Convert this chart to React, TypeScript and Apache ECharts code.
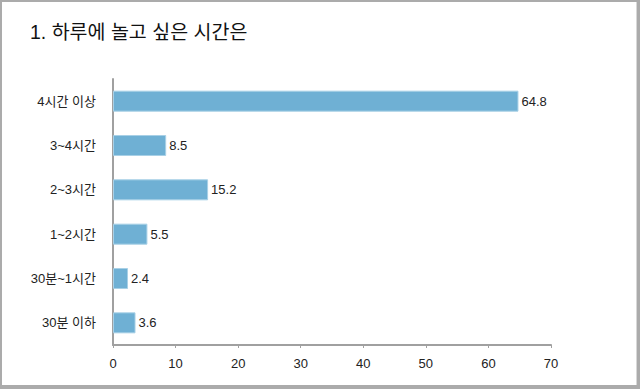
import React, { useEffect, useRef } from "react";
import * as echarts from "echarts";

const title = "1. 하루에 놀고 싶은 시간은";
const categories = ["30분 이하", "30분~1시간", "1~2시간", "2~3시간", "3~4시간", "4시간 이상"];
const values = [3.6, 2.4, 5.5, 15.2, 8.5, 64.8];
const xTicks = { min: 0, max: 70, interval: 10 };

const FONT = "'Liberation Sans', 'Noto Sans CJK KR', sans-serif";

export default function App() {
  const ref = useRef<HTMLDivElement>(null);
  useEffect(() => {
    document.body.style.margin = "0";
    const chart = echarts.init(ref.current!, null, { renderer: "svg" });
    chart.setOption({
      animation: false,
      backgroundColor: "#ababab",
      graphic: [
        {
          type: "rect",
          shape: { x: 2, y: 2, width: 634, height: 383 },
          style: { fill: "#ffffff" },
          z: -10,
          silent: true,
        },
        {
          type: "line",
          shape: { x1: 636.5, y1: 2, x2: 636.5, y2: 385 },
          style: { stroke: "#d8d8d8", lineWidth: 1 },
          silent: true,
        },
        {
          type: "text",
          left: 30,
          top: 22,
          style: { text: title, fontSize: 19.5, fill: "#111", fontFamily: FONT },
        },
      ],
      grid: { left: 113, right: 89, top: 79, bottom: 44, containLabel: false },
      xAxis: {
        type: "value",
        min: xTicks.min,
        max: xTicks.max,
        interval: xTicks.interval,
        splitLine: { show: false },
        axisLine: { show: true, lineStyle: { color: "#a0a0a0", width: 2 } },
        axisTick: { show: true, length: 3, lineStyle: { color: "#a0a0a0" } },
        axisLabel: { color: "#222", fontSize: 13, margin: 12, fontFamily: FONT },
      },
      yAxis: {
        type: "category",
        data: categories,
        axisLine: { show: true, lineStyle: { color: "#a0a0a0", width: 2 } },
        axisTick: { show: false },
        axisLabel: { color: "#222", fontSize: 13, margin: 17, fontFamily: FONT },
      },
      series: [
        {
          type: "bar",
          data: values,
          barWidth: 21,
          itemStyle: { color: "#6fb0d4", borderColor: "#a8d0e6", borderWidth: 1 },
          label: {
            show: true,
            position: "right",
            distance: 3,
            color: "#222",
            fontSize: 13,
            fontFamily: FONT,
          },
        },
      ],
    });
    return () => chart.dispose();
  }, []);
  return <div ref={ref} style={{ position: "absolute", left: 0, top: 0, width: 640, height: 389 }} />;
}
